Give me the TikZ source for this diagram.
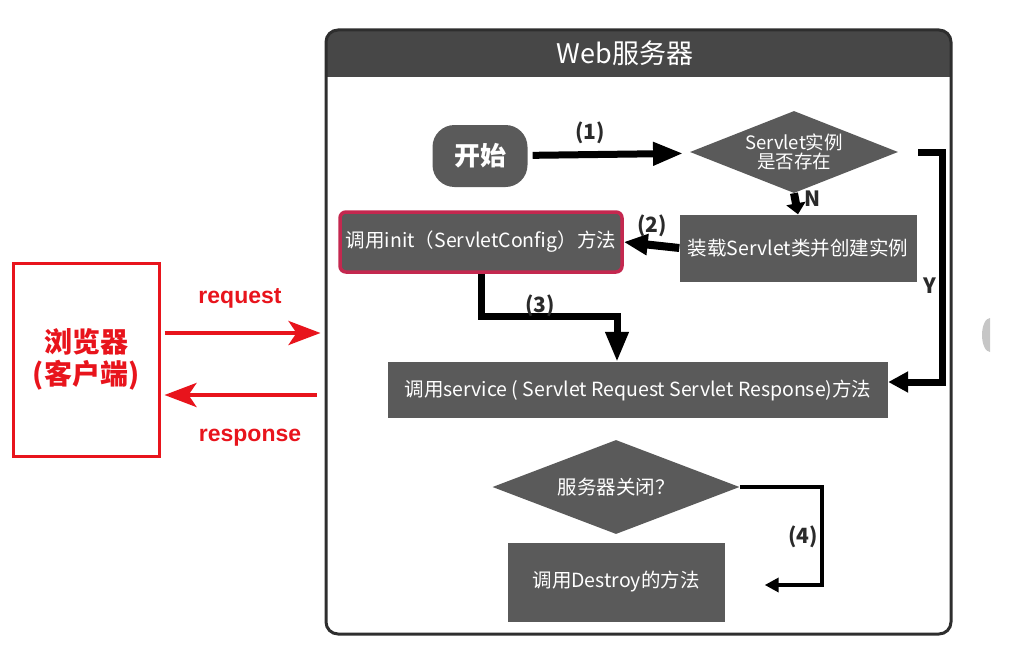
\documentclass[tikz,border=0pt]{standalone}
\usepackage{fontspec}
\setmainfont{Noto Sans CJK SC}
\newfontfamily\arialfont{Liberation Sans}
\usetikzlibrary{arrows.meta,shapes.geometric}

\definecolor{boxgray}{HTML}{5A5A5A}
\definecolor{hdrgray}{HTML}{474747}
\definecolor{frameline}{HTML}{2E2E2E}
\definecolor{crimson}{HTML}{C4284F}
\definecolor{brred}{HTML}{E8141C}
\definecolor{lblgray}{HTML}{2A2A2A}

\begin{document}
\begin{tikzpicture}[x=1pt,y=-1pt,
  box/.style={fill=boxgray,text=white,inner sep=0pt,font=\fontsize{19.5}{23}\selectfont},
  decide/.style={box,diamond,aspect=2.6,align=center},
  flow/.style={line width=7pt,black,-{Triangle[width=22pt,length=30pt]}},
  lbl/.style={text=lblgray,font=\fontsize{21}{24}\selectfont\bfseries},
  redlbl/.style={text=brred,font=\arialfont\fontsize{23}{26}\selectfont\bfseries},
  redflow/.style={line width=4pt,brred,-{Stealth[width=24pt,length=32pt,inset=8pt]}}]

  \useasboundingbox (0,0) rectangle (1032,650);

  % server frame with dark title bar
  \begin{scope}
    \clip[rounded corners=12pt] (326,30) rectangle (951,634);
    \fill[hdrgray] (326,30) rectangle (951,77);
  \end{scope}
  \node (server) [draw=frameline,line width=3pt,rounded corners=12pt,
    minimum width=625pt,minimum height=604pt] at (638.5,332) {};
  \node (title) [text=white,font=\fontsize{27}{32}\selectfont] at (625,53) {Web服务器};

  % flow boxes
  \node (start) [box,rounded corners=22pt,minimum width=95pt,minimum height=62pt,
    font=\fontsize{26}{30}\selectfont\bfseries] at (480,156) {开始};
  \node (chk) [decide,minimum width=208pt,minimum height=82pt,
    font=\fontsize{18.5}{19}\selectfont] at (794,152) {Servlet实例\\是否存在};
  \node (load) [box,minimum width=237pt,minimum height=67pt] at (798,248) {装载Servlet类并创建实例};
  \node (init) [box,draw=crimson,line width=3.5pt,rounded corners=6pt,
    minimum width=282pt,minimum height=60pt] at (481,242) {调用init（ServletConfig）方法};
  \node (svc) [box,minimum width=500pt,minimum height=56pt] at (638,390)
    {调用service ( Servlet Request Servlet Response)方法};
  \node (off) [decide,minimum width=247pt,minimum height=94pt] at (616,487) {服务器关闭？};
  \node (dst) [box,minimum width=217pt,minimum height=79pt] at (616,582) {调用Destroy的方法};

  % arrows inside the server
  \draw[flow,shorten <=5pt,shorten >=10pt] (start) -- (chk);
  \node (n1) [lbl] at (590,133) {(1)};
  \draw[line width=8pt,-{Triangle[width=19pt,length=11pt]}] (chk.south) -- (load.north);
  \node (nN) [lbl] at (813,199) {N};
  \draw[line width=8pt,-{Triangle[width=20pt,length=24pt]}] (load.west) -- (init.east);
  \node (n2) [lbl] at (652,226) {(2)};
  \draw[line width=7pt,-{Triangle[width=20pt,length=20pt]}]
    ([xshift=20pt]chk.east) -- ++(24,0) |- ([yshift=8pt]svc.east);
  \node (nY) [lbl] at (930,286) {Y};
  \draw[flow] (init.south) -- ++(0,43) -| ([xshift=-21pt]svc.north);
  \node (n3) [lbl] at (540,306) {(3)};
  \draw[line width=4pt,-{Triangle[width=14pt,length=14pt]}]
    (off.east) -- ++(82,0) |- ([xshift=40pt,yshift=-3pt]dst.east);
  \node (n4) [lbl] at (803,537) {(4)};

  % browser and its requests
  \node (brw) [draw=brred,line width=3pt,minimum width=146pt,minimum height=193pt,
    text=brred,align=center,font=\fontsize{28}{32}\selectfont\bfseries] at (86,359.5) {浏览器\\(客户端)};
  \coordinate (reqy) at (0,333);
  \coordinate (rspy) at (0,395);
  \draw[redflow,shorten <=4pt,shorten >=4pt] (brw.east |- reqy) -- (server.west |- reqy);
  \node (req) [redlbl] at (240,298) {request};
  \draw[redflow,shorten <=8pt,shorten >=4pt] (server.west |- rspy) -- (brw.east |- rspy);
  \node (rsp) [redlbl] at (250,438) {response};

  % grey edge at the right
  \fill[gray!45] (990,318) arc[start angle=270,end angle=90,x radius=8,y radius=17] -- cycle;

\end{tikzpicture}
\end{document}
